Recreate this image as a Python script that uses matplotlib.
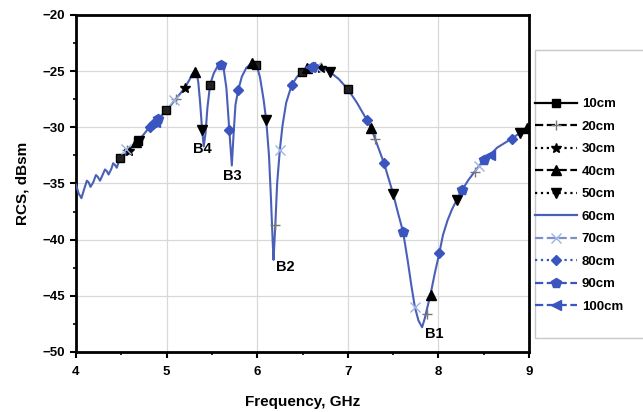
import matplotlib
matplotlib.use("Agg")
import matplotlib.pyplot as plt
from matplotlib.lines import Line2D
from matplotlib.patches import Rectangle

plt.rcParams['font.family'] = ['Liberation Sans', 'DejaVu Sans']
plt.rcParams['font.weight'] = 'bold'

# Main 60 cm curve (frequency GHz, RCS dBsm)
freq_60 = [4.00, 4.03, 4.06, 4.09, 4.12, 4.14, 4.16, 4.19, 4.22, 4.24, 4.265, 4.29, 4.32, 4.34,
           4.36, 4.39, 4.41, 4.43, 4.45, 4.47, 4.50, 4.53, 4.55, 4.58, 4.60, 4.63, 4.66, 4.70,
           4.75, 4.80, 4.85, 4.90, 4.95, 5.00, 5.05, 5.10, 5.15, 5.20, 5.25, 5.28, 5.31, 5.33,
           5.35, 5.37, 5.39, 5.41, 5.43, 5.45, 5.48, 5.52, 5.56, 5.60, 5.63, 5.66, 5.69, 5.72,
           5.74, 5.76, 5.79, 5.83, 5.88, 5.94, 5.99, 6.03, 6.07, 6.10, 6.13, 6.15, 6.17, 6.18,
           6.20, 6.22, 6.25, 6.28, 6.32, 6.38, 6.44, 6.50, 6.55, 6.60, 6.68, 6.75, 6.80, 6.90,
           7.00, 7.10, 7.20, 7.26, 7.30, 7.40, 7.50, 7.55, 7.61, 7.66, 7.70, 7.74, 7.78, 7.82,
           7.85, 7.87, 7.915, 7.96, 8.01, 8.05, 8.10, 8.15, 8.20, 8.26, 8.33, 8.40, 8.50, 8.57,
           8.65, 8.73, 8.81, 8.90, 8.98, 9.00]
rcs_60 = [-35.1, -35.9, -36.3, -35.5, -34.75, -34.9, -35.3, -34.9, -34.25, -34.4, -34.75, -34.3, -33.75, -33.9,
          -34.2, -33.7, -33.2, -33.35, -33.6, -33.1, -32.7, -32.6, -32.3, -32.2, -31.9, -31.7, -31.4, -31.1,
          -30.6, -30.1, -29.7, -29.3, -28.9, -28.5, -28.0, -27.5, -27.0, -26.5, -25.8, -25.3, -25.0, -25.1,
          -26.0, -27.8, -30.0, -31.7, -30.5, -28.3, -26.2, -25.2, -24.6, -24.45, -24.8, -26.5, -30.0, -33.4,
          -30.5, -28.0, -26.7, -25.5, -24.7, -24.3, -24.4, -25.5, -27.5, -29.4, -32.5, -36.0, -40.0, -41.8,
          -38.7, -35.0, -32.0, -29.8, -27.8, -26.25, -25.5, -25.05, -24.75, -24.6, -24.65, -24.85, -25.05, -25.7,
          -26.6, -27.8, -29.2, -30.1, -31.0, -33.2, -35.9, -37.5, -39.3, -41.8, -44.0, -46.0, -47.2, -47.8,
          -47.0, -46.3, -44.8, -43.0, -41.2, -39.6, -38.3, -37.3, -36.5, -35.6, -34.7, -33.95, -32.9, -32.45,
          -31.8, -31.4, -31.0, -30.5, -30.1, -30.0]

# Marker positions of the other series (they lie on the same curve)
freq_10 = [4.49, 4.68, 4.99, 5.48, 5.99, 6.49, 7.00]
rcs_10 = [-32.75, -31.2, -28.5, -26.2, -24.45, -25.1, -26.6]
freq_20 = [4.56, 5.10, 6.20, 7.30, 7.87, 8.40]
rcs_20 = [-32.0, -27.5, -38.7, -31.0, -46.6, -33.95]
freq_30 = [4.58, 5.20, 6.70]
rcs_30 = [-32.1, -26.5, -24.7]
freq_40 = [4.66, 5.31, 5.94, 6.55, 7.26, 7.915, 8.98]
rcs_40 = [-31.3, -25.1, -24.3, -24.75, -30.1, -44.9, -30.1]
freq_50 = [4.70, 5.39, 6.10, 6.80, 7.50, 8.20, 8.90]
rcs_50 = [-31.2, -30.25, -29.35, -25.05, -35.9, -36.5, -30.5]
freq_70 = [4.55, 5.08, 6.25, 6.65, 7.74, 8.45]
rcs_70 = [-31.9, -27.6, -32.0, -24.6, -46.0, -33.4]
freq_80 = [4.82, 4.85, 4.88, 5.69, 5.79, 6.38, 7.21, 7.40, 8.01, 8.81]
rcs_80 = [-30.0, -29.7, -29.5, -30.25, -26.7, -26.25, -29.35, -33.2, -41.2, -31.0]
freq_90 = [4.90, 5.60, 6.62, 7.61, 8.26, 8.50]
rcs_90 = [-29.3, -24.45, -24.6, -39.3, -35.6, -32.9]
freq_100 = [4.87, 6.58, 8.57]
rcs_100 = [-29.55, -24.6, -32.45]

labels = ['10cm', '20cm', '30cm', '40cm', '50cm', '60cm', '70cm', '80cm', '90cm', '100cm']
dip_labels = ['B1', 'B2', 'B3', 'B4']
dip_freq = [7.95, 6.31, 5.73, 5.39]
dip_rcs = [-48.4, -42.4, -34.3, -31.9]

x_ticks = [4, 5, 6, 7, 8, 9]
y_ticks = [-50, -45, -40, -35, -30, -25, -20]

W, H = 643, 412
fig = plt.figure(figsize=(W / 100, H / 100), dpi=100)
ax = fig.add_axes([76 / W, 1 - 352 / H, (529 - 76) / W, (352 - 15) / H])

blue = '#4a60b8'
dblue = '#3b55c0'
lblue = '#9fb2e6'

ax.plot(freq_60, rcs_60, color=blue, lw=1.5, zorder=3)

styles = [
    (freq_10, rcs_10, dict(marker='s', color='black', mfc='#222', ms=5.5), '-'),
    (freq_20, rcs_20, dict(marker='+', color='#777', ms=7, mew=1.0), '--'),
    (freq_30, rcs_30, dict(marker='*', color='black', ms=7.5), ':'),
    (freq_40, rcs_40, dict(marker='^', color='black', ms=6.5), '--'),
    (freq_50, rcs_50, dict(marker='v', color='black', ms=6.5), ':'),
    (None, None, None, '-'),
    (freq_70, rcs_70, dict(marker='x', color=lblue, ms=7, mew=1.0), '--'),
    (freq_80, rcs_80, dict(marker='D', color=dblue, ms=5.5), ':'),
    (freq_90, rcs_90, dict(marker='p', color=dblue, ms=7.5), '--'),
    (freq_100, rcs_100, dict(marker='<', color=dblue, ms=6.5), '--'),
]

handles = []
for (fx, fy, mk, ls), lab in zip(styles, labels):
    if fx is None:
        handles.append(Line2D([], [], color=blue, lw=1.6, ls='-', label=lab))
        continue
    ax.plot(fx, fy, ls='none', zorder=4, **mk)
    lcol = mk['color']
    if lcol == '#777':
        lcol = 'black'
    if lcol == lblue:
        lcol = '#7f8fc8'
    handles.append(Line2D([], [], color=lcol, lw=1.6, ls=ls,
                          marker=mk['marker'], mfc=mk['color'], mec=mk['color'],
                          ms=mk['ms'], mew=mk.get('mew', 1.0), label=lab))

for t, fx, fy in zip(dip_labels, dip_freq, dip_rcs):
    ax.text(fx, fy, t, ha='center', va='center', fontsize=10.5, fontweight='bold', zorder=5)

ax.set_xlim(4, 9)
ax.set_ylim(-50, -20)
ax.set_xticks(x_ticks)
ax.set_yticks(y_ticks)
ax.set_xticks([4.5, 5.5, 6.5, 7.5, 8.5], minor=True)
ax.set_yticks([-47.5, -42.5, -37.5, -32.5, -27.5, -22.5], minor=True)
ax.grid(True, which='major', color='#d8d8d8', lw=0.9)
ax.set_axisbelow(True)
for s in ax.spines.values():
    s.set_linewidth(2.0)
ax.tick_params(which='major', direction='out', length=4, width=1.5, labelsize=9.5)
ax.tick_params(axis='x', which='major', pad=6)
ax.tick_params(axis='y', which='major', pad=4)
ax.tick_params(which='minor', direction='out', length=2.5, width=1.2)
for lab in ax.get_xticklabels() + ax.get_yticklabels():
    lab.set_fontweight('bold')

ax.set_xlabel('Frequency, GHz', fontsize=11, fontweight='bold', labelpad=12)
ax.set_ylabel('RCS, dBsm', fontsize=11, fontweight='bold', labelpad=9)

# legend frame
fig.patches.append(Rectangle((535 / W, 1 - 338 / H), 120 / W, 288 / H, transform=fig.transFigure,
                             facecolor='white', edgecolor='#c8c8c8', lw=1.0, zorder=1))
leg = fig.legend(handles=handles, loc='upper left', bbox_to_anchor=(535 / W, 1 - 98 / H),
                 frameon=False, fontsize=9.5, handlelength=3.2, handletextpad=0.35,
                 labelspacing=0.78, borderpad=0, borderaxespad=0)
for t in leg.get_texts():
    t.set_fontweight('bold')

fig.savefig('out.png', dpi=100)
